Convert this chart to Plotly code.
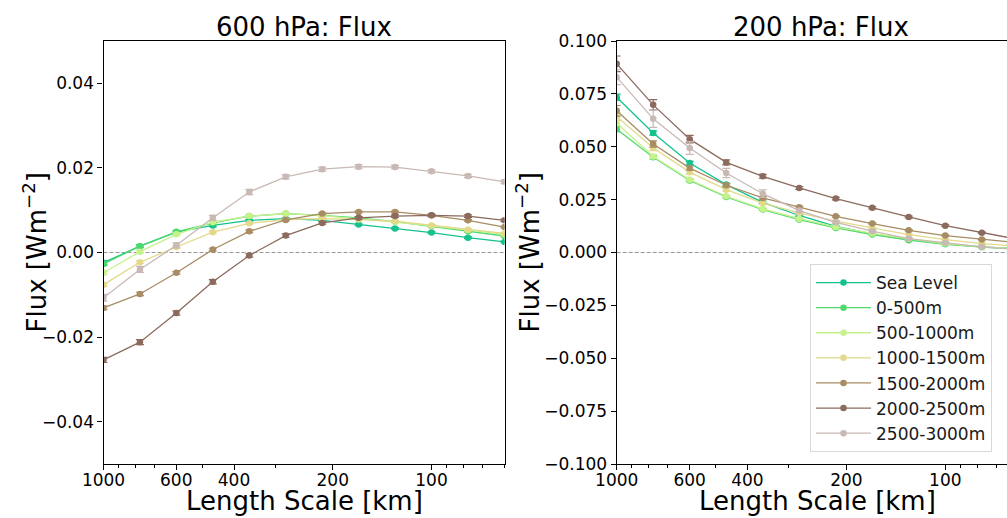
import numpy as np
import plotly.graph_objects as go

# Length scales (km) of the spectral bins
length_km = [1000.0, 774.3, 599.5, 464.2, 359.4, 278.3, 215.4, 166.8, 129.2, 100.0, 77.4, 59.9]

series_names = ["Sea Level", "0-500m", "500-1000m", "1000-1500m",
                "1500-2000m", "2000-2500m", "2500-3000m"]
series_colors = ["#14c28e", "#4fd96d", "#c6f28a", "#e2d98a",
                 "#a88c64", "#8c6a5e", "#c9b9b5"]

# 600 hPa flux
flux600 = {
    "Sea Level":  [-0.0024, 0.0015, 0.0048, 0.0064, 0.0076, 0.0080, 0.0076, 0.0066, 0.0057, 0.0047, 0.0035, 0.0025],
    "0-500m":     [-0.0027, 0.0015, 0.0049, 0.0070, 0.0086, 0.0092, 0.0088, 0.0082, 0.0073, 0.0062, 0.0050, 0.0039],
    "500-1000m":  [-0.0048, 0.0002, 0.0043, 0.0072, 0.0086, 0.0092, 0.0087, 0.0080, 0.0072, 0.0063, 0.0053, 0.0043],
    "1000-1500m": [-0.0076, -0.0023, 0.0013, 0.0048, 0.0069, 0.0078, 0.0080, 0.0078, 0.0074, 0.0064, 0.0054, 0.0045],
    "1500-2000m": [-0.0131, -0.0098, -0.0048, 0.0007, 0.0050, 0.0077, 0.0092, 0.0096, 0.0096, 0.0088, 0.0076, 0.0060],
    "2000-2500m": [-0.0254, -0.0212, -0.0143, -0.0069, -0.0007, 0.0040, 0.0070, 0.0082, 0.0086, 0.0088, 0.0086, 0.0076],
    "2500-3000m": [-0.0107, -0.0040, 0.0017, 0.0082, 0.0143, 0.0179, 0.0197, 0.0203, 0.0202, 0.0192, 0.0181, 0.0167],
}
err600 = {
    "Sea Level":  [0.0004, 0.0003, 0.0003, 0.0003, 0.0002, 0.0002, 0.0002, 0.0002, 0.0002, 0.0002, 0.0002, 0.0002],
    "0-500m":     [0.0004, 0.0003, 0.0003, 0.0003, 0.0002, 0.0002, 0.0002, 0.0002, 0.0002, 0.0002, 0.0002, 0.0002],
    "500-1000m":  [0.0004, 0.0003, 0.0003, 0.0003, 0.0002, 0.0002, 0.0002, 0.0002, 0.0002, 0.0002, 0.0002, 0.0002],
    "1000-1500m": [0.0004, 0.0003, 0.0003, 0.0003, 0.0002, 0.0002, 0.0002, 0.0002, 0.0002, 0.0002, 0.0002, 0.0002],
    "1500-2000m": [0.0004, 0.0004, 0.0003, 0.0003, 0.0003, 0.0002, 0.0002, 0.0002, 0.0002, 0.0002, 0.0002, 0.0002],
    "2000-2500m": [0.0006, 0.0006, 0.0005, 0.0005, 0.0004, 0.0004, 0.0003, 0.0003, 0.0003, 0.0003, 0.0003, 0.0003],
    "2500-3000m": [0.0008, 0.0007, 0.0006, 0.0006, 0.0006, 0.0005, 0.0005, 0.0005, 0.0004, 0.0004, 0.0004, 0.0004],
}

# 200 hPa flux
flux200 = {
    "Sea Level":  [0.0734, 0.0565, 0.0423, 0.0321, 0.0237, 0.0175, 0.0124, 0.0088, 0.0061, 0.0041, 0.0027, 0.0018],
    "0-500m":     [0.0583, 0.0450, 0.0341, 0.0263, 0.0203, 0.0156, 0.0116, 0.0085, 0.0058, 0.0039, 0.0025, 0.0016],
    "500-1000m":  [0.0612, 0.0454, 0.0344, 0.0266, 0.0206, 0.0160, 0.0121, 0.0090, 0.0065, 0.0042, 0.0027, 0.0018],
    "1000-1500m": [0.0643, 0.0494, 0.0380, 0.0297, 0.0234, 0.0187, 0.0148, 0.0115, 0.0085, 0.0061, 0.0042, 0.0030],
    "1500-2000m": [0.0670, 0.0513, 0.0399, 0.0318, 0.0258, 0.0214, 0.0171, 0.0137, 0.0105, 0.0080, 0.0061, 0.0046],
    "2000-2500m": [0.0892, 0.0698, 0.0536, 0.0426, 0.0360, 0.0305, 0.0255, 0.0211, 0.0168, 0.0127, 0.0093, 0.0062],
    "2500-3000m": [0.0829, 0.0632, 0.0494, 0.0376, 0.0278, 0.0198, 0.0143, 0.0101, 0.0066, 0.0046, 0.0027, 0.0015],
}
err200 = {
    "Sea Level":  [0.0015, 0.0010, 0.0008, 0.0006, 0.0005, 0.0004, 0.0003, 0.0003, 0.0002, 0.0002, 0.0002, 0.0002],
    "0-500m":     [0.0012, 0.0008, 0.0006, 0.0005, 0.0004, 0.0003, 0.0003, 0.0002, 0.0002, 0.0002, 0.0002, 0.0002],
    "500-1000m":  [0.0012, 0.0008, 0.0006, 0.0005, 0.0004, 0.0003, 0.0003, 0.0002, 0.0002, 0.0002, 0.0002, 0.0002],
    "1000-1500m": [0.0018, 0.0012, 0.0009, 0.0007, 0.0005, 0.0004, 0.0003, 0.0003, 0.0002, 0.0002, 0.0002, 0.0002],
    "1500-2000m": [0.0025, 0.0015, 0.0010, 0.0008, 0.0006, 0.0005, 0.0004, 0.0003, 0.0003, 0.0002, 0.0002, 0.0002],
    "2000-2500m": [0.0037, 0.0025, 0.0018, 0.0012, 0.0009, 0.0007, 0.0006, 0.0005, 0.0004, 0.0004, 0.0003, 0.0003],
    "2500-3000m": [0.0035, 0.0040, 0.0030, 0.0022, 0.0018, 0.0008, 0.0006, 0.0005, 0.0004, 0.0003, 0.0003, 0.0002],
}

x_ticks = [1000, 600, 400, 200, 100]
x_minor = [900, 800, 700, 500, 300, 90, 80, 70, 60]
y1_ticks = [-0.04, -0.02, 0.0, 0.02, 0.04]
y2_ticks = [-0.1, -0.075, -0.05, -0.025, 0.0, 0.025, 0.05, 0.075, 0.1]

W, H = 1007, 518
FONT = "DejaVu Sans"

fig = go.Figure()

for name, col in zip(series_names, series_colors):
    fig.add_trace(go.Scatter(
        x=length_km, y=flux600[name], mode="lines+markers", name=name,
        line=dict(color=col, width=1.3), marker=dict(color=col, size=6.5),
        error_y=dict(type="data", array=err600[name], color=col, thickness=1.2, width=4),
        xaxis="x", yaxis="y", showlegend=False))
for name, col in zip(series_names, series_colors):
    fig.add_trace(go.Scatter(
        x=length_km, y=flux200[name], mode="lines+markers", name=name,
        line=dict(color=col, width=1.3), marker=dict(color=col, size=6.5),
        error_y=dict(type="data", array=err200[name], color=col, thickness=1.2, width=4),
        xaxis="x2", yaxis="y2", showlegend=True))

ydom = [1 - 464 / H, 1 - 41 / H]
x1dom = [103.5 / W, 504.5 / W]
x2dom = [616.7 / W, 1.0]
step_px = 36.36
x2_end = 3 - (W - 618.3) / step_px / 9.0

common_x = dict(type="log", showgrid=False, zeroline=False, showline=True, automargin=False,
                linecolor="black", linewidth=1.2, ticks="outside", ticklen=5,
                tickcolor="black", tickvals=x_ticks, ticktext=[str(v) for v in x_ticks],
                tickfont=dict(size=17, color="black", family=FONT), ticklabelstandoff=-5,
                minor=dict(tickvals=x_minor, ticks="outside", ticklen=3, tickcolor="black"))
common_y = dict(showgrid=False, zeroline=False, showline=True, linecolor="black", automargin=False,
                linewidth=1.2, ticks="outside", ticklen=5, tickcolor="black",
                tickfont=dict(size=17, color="black", family=FONT))

fig.update_layout(
    width=W, height=H, margin=dict(l=0, r=0, t=0, b=0, autoexpand=False),
    paper_bgcolor="white", plot_bgcolor="white",
    font=dict(family=FONT, color="black"),
    xaxis=dict(common_x, domain=x1dom, range=[3, np.log10(59.9)], anchor="y", mirror=True),
    yaxis=dict(common_y, domain=ydom, range=[-0.05, 0.05], tickvals=y1_ticks,
               ticktext=["\u22120.04", "\u22120.02", "0.00", "0.02", "0.04"],
               anchor="x", mirror=True),
    xaxis2=dict(common_x, domain=x2dom, range=[3, x2_end], anchor="y2", mirror=True),
    yaxis2=dict(common_y, domain=ydom, range=[-0.1, 0.1], tickvals=y2_ticks,
                ticktext=[("\u2212%.3f" % -v) if v < 0 else "%.3f" % v for v in y2_ticks],
                anchor="x2", mirror=False),
    legend=dict(x=992 / W, xanchor="right", y=1 - 264 / H, yanchor="top",
                bgcolor="white", bordercolor="#d8d8d8", borderwidth=1,
                font=dict(size=17, family=FONT, color="#1a1a1a"),
                tracegroupgap=0, itemwidth=55),
)

for xr, yr in (("x domain", "y"), ("x2 domain", "y2")):
    fig.add_shape(type="line", xref=xr, yref=yr, x0=0, x1=1, y0=0, y1=0,
                  line=dict(color="#999999", width=1, dash="4px,2px"), layer="below")

ann = []
for cx, txt in (((103.5 + 504.5) / 2, "600 hPa: Flux"), (821, "200 hPa: Flux")):
    ann.append(dict(x=cx / W, y=1 - 27 / H, xref="paper", yref="paper", text=txt,
                    showarrow=False, font=dict(size=26, family=FONT, color="black"),
                    xanchor="center", yanchor="middle"))
for cx in ((103.5 + 504.5) / 2, 817.5):
    ann.append(dict(x=cx / W, y=1 - 501 / H, xref="paper", yref="paper",
                    text="Length Scale [km]", showarrow=False,
                    font=dict(size=26, family=FONT, color="black"),
                    xanchor="center", yanchor="middle"))
for cx in (35, 528):
    ann.append(dict(x=cx / W, y=1 - 252.5 / H, xref="paper", yref="paper",
                    text="Flux [Wm<sup>\u22122</sup>]", showarrow=False, textangle=-90,
                    font=dict(size=26, family=FONT, color="black"),
                    xanchor="center", yanchor="middle"))
fig.update_layout(annotations=ann)

fig.write_html("out.html")
